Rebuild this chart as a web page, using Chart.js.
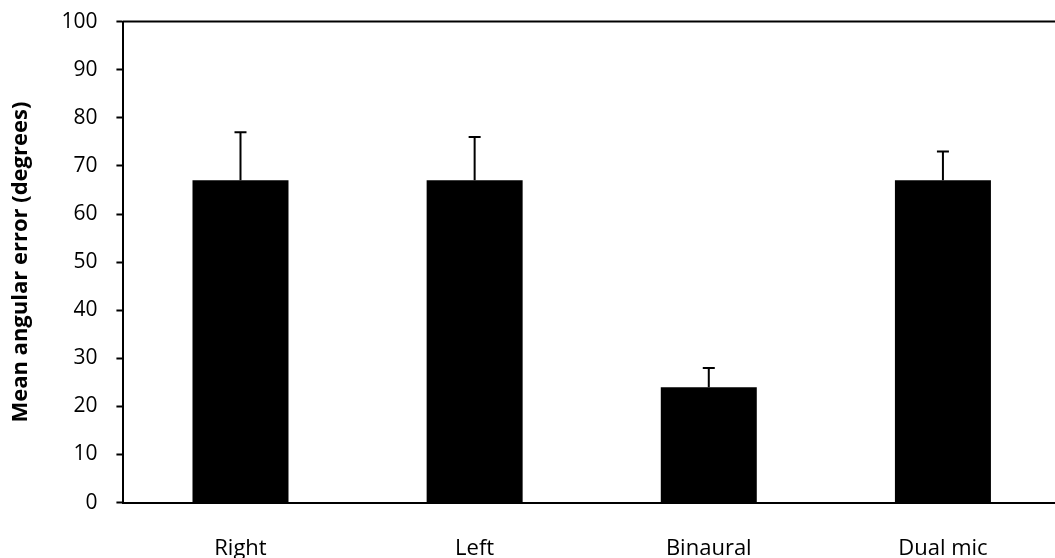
<!DOCTYPE html>
<html>
<head>
<meta charset="utf-8">
<script src="https://cdn.jsdelivr.net/npm/chart.js@4"></script>
<style>
  body { margin: 0; overflow: hidden; background: #fff; }
  #wrap { width: 1060px; height: 568px; margin-top: -10px; }
</style>
</head>
<body>
<div id="wrap"><canvas id="errorChart"></canvas></div>
<script>
// Data
const categories = ['Right', 'Left', 'Binaural', 'Dual mic'];
const meanError = [67, 67, 24, 67];
const errorUp = [10, 9, 4, 6];
const yTicks = [0, 10, 20, 30, 40, 50, 60, 70, 80, 90, 100];

const fontFamily = '"Open Sans", sans-serif';

// Draws the upper error bars and the top frame line
const errorBarPlugin = {
    id: 'errorBars',
    afterDatasetsDraw(chart) {
        const ctx = chart.ctx;
        const y = chart.scales.y;
        const meta = chart.getDatasetMeta(0);
        ctx.save();
        ctx.strokeStyle = '#000';
        ctx.lineWidth = 2;
        meta.data.forEach((bar, i) => {
            const top = y.getPixelForValue(meanError[i] + errorUp[i]);
            ctx.beginPath();
            ctx.moveTo(bar.x, bar.y);
            ctx.lineTo(bar.x, top);
            ctx.moveTo(bar.x - 6, top);
            ctx.lineTo(bar.x + 6, top);
            ctx.stroke();
        });
        // top border of the plot area
        const area = chart.chartArea;
        ctx.beginPath();
        ctx.moveTo(area.left - 1, area.top);
        ctx.lineTo(area.right, area.top);
        ctx.stroke();
        ctx.restore();
    }
};

const ctx = document.getElementById('errorChart').getContext('2d');
const errorChart = new Chart(ctx, {
    type: 'bar',
    data: {
        labels: categories,
        datasets: [{
            data: meanError,
            backgroundColor: '#000',
            borderWidth: 0,
            barPercentage: 0.41,
            categoryPercentage: 1
        }]
    },
    options: {
        responsive: true,
        maintainAspectRatio: false,
        animation: false,
        layout: { padding: { top: -1, left: 8, right: 0, bottom: -29 } },
        plugins: {
            legend: { display: false },
            tooltip: { enabled: false }
        },
        scales: {
            x: {
                grid: { display: false },
                border: { color: '#000', width: 2 },
                ticks: {
                    color: '#000',
                    padding: 25,
                    font: { family: fontFamily, size: 22 }
                }
            },
            y: {
                min: 0,
                max: 100,
                afterBuildTicks: (axis) => {
                    axis.ticks = yTicks.map(v => ({ value: v }));
                },
                grid: {
                    drawOnChartArea: false,
                    tickLength: 7,
                    tickWidth: 2,
                    color: '#000'
                },
                border: { color: '#000', width: 2 },
                ticks: {
                    color: '#000',
                    padding: 19,
                    font: { family: fontFamily, size: 21 }
                },
                title: {
                    display: true,
                    text: 'Mean angular error (degrees)',
                    color: '#000',
                    padding: { top: 0, bottom: 8 },
                    font: { family: fontFamily, size: 22, weight: 'bold' }
                }
            }
        }
    },
    plugins: [errorBarPlugin]
});
</script>
</body>
</html>
